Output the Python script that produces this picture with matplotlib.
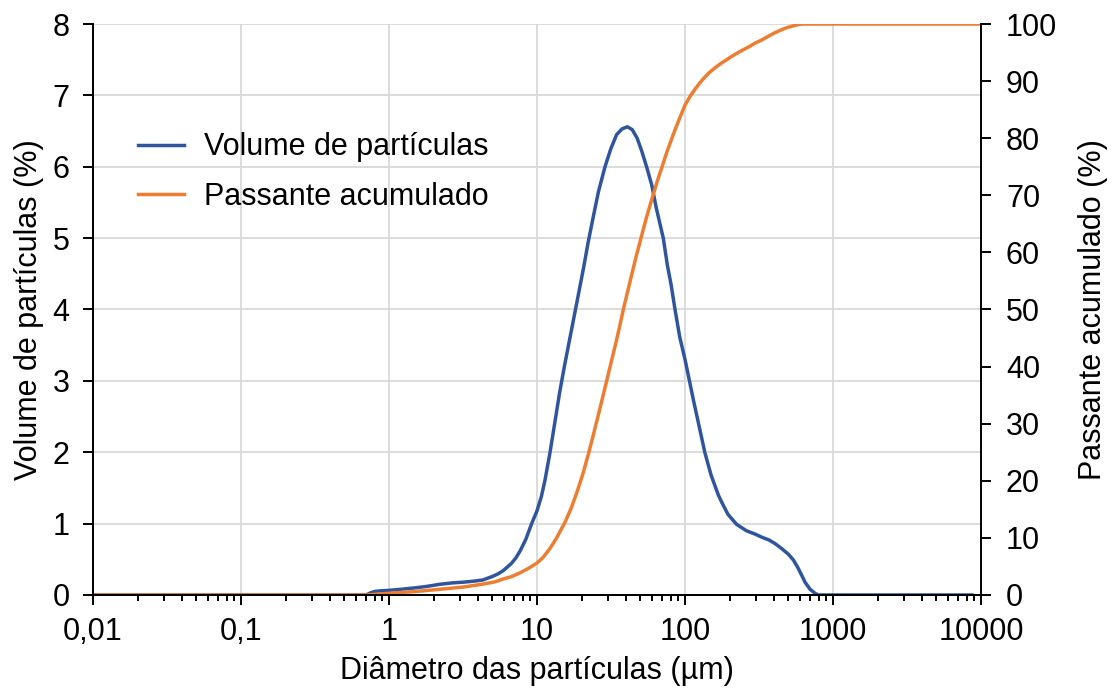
import matplotlib.pyplot as plt
import matplotlib.ticker as mticker
import numpy as np

plt.rcParams['font.family'] = ['Liberation Sans', 'DejaVu Sans']
plt.rcParams['font.size'] = 22

# particle size distribution (laser diffraction)
diam_vol = [0.01, 0.1, 0.7, 0.75, 0.8, 0.9, 1.0, 1.2, 1.5, 1.8, 2.2, 2.7, 3.2, 3.8,
            4.3, 5.0, 5.5, 5.9, 6.7, 7.2, 7.7, 8.4, 9.2, 10, 10.7, 11.3, 12.2, 13.2,
            14.2, 15.3, 16.5, 17.8, 19.2, 20.7, 22.2, 24, 26, 28.8, 31.5, 34.5, 37.5,
            40.8, 44, 47.5, 51, 55, 59.5, 64, 71.3, 76, 80.5, 85.6, 92, 100, 114, 125,
            136, 150, 168, 177, 195, 223, 260, 300, 330, 370, 406, 450, 500, 540, 580,
            620, 647, 700, 760, 800, 1000, 3000, 8700]
volume = [0, 0, 0, 0.03, 0.05, 0.06, 0.065, 0.08, 0.10, 0.12, 0.15, 0.17, 0.18, 0.195,
          0.21, 0.26, 0.30, 0.34, 0.44, 0.52, 0.62, 0.78, 1.00, 1.18, 1.38, 1.60, 1.98, 2.42,
          2.83, 3.20, 3.55, 3.90, 4.25, 4.60, 4.95, 5.30, 5.65, 6.00, 6.25, 6.45, 6.53,
          6.56, 6.52, 6.40, 6.22, 6.00, 5.75, 5.42, 5.00, 4.62, 4.35, 4.00, 3.62, 3.30, 2.73, 2.35,
          2.00, 1.68, 1.40, 1.30, 1.13, 0.99, 0.90, 0.85, 0.81, 0.77, 0.72, 0.65, 0.57, 0.49, 0.38,
          0.26, 0.18, 0.08, 0.02, 0.0, 0, 0, 0]

diam_cum = [0.01, 0.1, 0.7, 0.8, 1.0, 1.5, 2.2, 3.2, 4.3, 5.2, 5.9, 6.7, 7.7, 8.8,
            10, 11, 12.2, 13.5, 15.5, 17, 18.5, 20.3, 22.2, 24, 26, 28, 30, 32, 34, 36,
            38.3, 41, 44, 47, 50.4, 55, 60, 65, 70, 75, 80, 86, 92, 100, 108, 117, 126,
            135, 146, 159, 175, 195, 215, 240, 270, 300, 330, 363, 400, 440, 480, 524,
            570, 620, 1000, 10000]
passante = [0, 0, 0, 0.1, 0.3, 0.6, 1.0, 1.4, 1.9, 2.3, 2.8, 3.2, 3.9, 4.7,
            5.6, 6.6, 8.1, 9.9, 12.8, 15.2, 17.8, 21.0, 24.6, 28.0, 31.6, 35.0, 38.2, 41.2, 44.0, 46.8,
            50.0, 53.2, 56.5, 59.5, 62.5, 66.2, 69.5, 72.5, 75.0, 77.4, 79.4, 81.6, 83.5, 85.8, 87.3, 88.6, 89.7,
            90.6, 91.5, 92.3, 93.1, 93.9, 94.6, 95.3, 96.0, 96.7, 97.2, 97.8, 98.4, 98.9, 99.3, 99.6,
            99.85, 100, 100, 100]

xticks = [0.01, 0.1, 1, 10, 100, 1000, 10000]
xlabels = ['0,01', '0,1', '1', '10', '100', '1000', '10000']

fig = plt.figure(figsize=(11.13, 6.90), dpi=100)
ax = fig.add_axes([0.0836, 0.1377, 0.7978, 0.8275])
ax2 = ax.twinx()

ax.plot(diam_vol, volume, color='#2F559C', lw=2.5, label='Volume de partículas')
ax2.plot(diam_cum, passante, color='#ED7D31', lw=2.5, label='Passante acumulado')

ax.set_xscale('log')
ax.set_xlim(0.01, 10000)
ax.set_ylim(0, 8)
ax2.set_ylim(0, 100)

ax.xaxis.set_major_locator(mticker.FixedLocator(xticks))
ax.xaxis.set_major_formatter(mticker.FixedFormatter(xlabels))
ax.xaxis.set_minor_locator(mticker.LogLocator(base=10, subs=np.arange(2, 10)))
ax.xaxis.set_minor_formatter(mticker.NullFormatter())
ax.set_yticks(range(0, 9))
ax2.set_yticks(range(0, 101, 10))

ax.grid(True, which='major', color='#D9D9D9', lw=1.3)
ax.set_axisbelow(True)

for a in (ax, ax2):
    a.spines['top'].set_visible(False)
    for s in a.spines.values():
        s.set_linewidth(1.4)
ax.spines['right'].set_visible(False)

ax.tick_params(axis='x', which='major', direction='out', length=7, width=1.4, pad=9)
ax.tick_params(axis='x', which='minor', direction='out', length=4, width=1.4)
ax.tick_params(axis='y', direction='out', length=7, width=1.4, pad=10)
ax2.tick_params(axis='y', direction='out', length=7, width=1.4, pad=11)

ax.set_xlabel('Diâmetro das partículas (µm)', labelpad=6)
ax.set_ylabel('Volume de partículas (%)', labelpad=6)
ax2.set_ylabel('Passante acumulado (%)', labelpad=15)

h1, l1 = ax.get_legend_handles_labels()
h2, l2 = ax2.get_legend_handles_labels()
ax2.legend(h1 + h2, l1 + l2, loc='upper left', bbox_to_anchor=(0.113, 0.826),
           bbox_transform=fig.transFigure, frameon=False, handlelength=1.5,
           handletextpad=0.65, labelspacing=0.63, borderaxespad=0)

fig.savefig('out.png', dpi=100)
